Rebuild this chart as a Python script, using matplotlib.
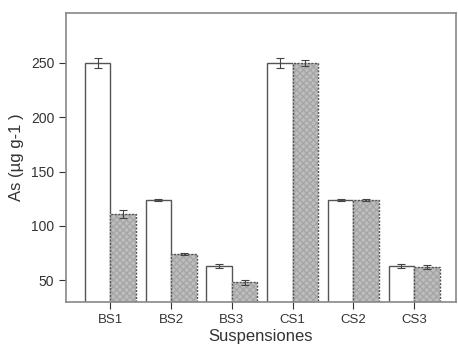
import numpy as np
import matplotlib.pyplot as plt

plt.rcParams['font.family'] = ['Liberation Sans', 'DejaVu Sans']

labels = ["BS1", "BS2", "BS3", "CS1", "CS2", "CS3"]
white_vals = [250, 124, 63, 250, 124, 63]
white_err = [5, 1, 2, 5, 1, 2]
grey_vals = [111, 74, 48, 250, 124, 62]
grey_err = [4, 0.7, 2, 3, 1, 2]

x = np.arange(len(labels))
w = 0.42
err_style = dict(ecolor="#444444", elinewidth=0.8, capthick=0.8)

fig = plt.figure(figsize=(4.58, 3.45), dpi=100)
ax = fig.add_axes([66 / 458, 43 / 345, 390 / 458, 289 / 345])

ax.bar(x - w / 2, white_vals, w, color="white", edgecolor="#555555",
       linewidth=1.0, yerr=white_err, capsize=3, error_kw=err_style)
# grey bars: light dotted fill, then a dashed outline on top
ax.bar(x + w / 2, grey_vals, w, color="#bdbdbd", edgecolor="#a6a6a6",
       linewidth=0, hatch="xxxxx")
ax.bar(x + w / 2, grey_vals, w, color="none", edgecolor="#555555",
       linewidth=1.0, linestyle=(0, (1.5, 1)),
       yerr=grey_err, capsize=3, error_kw=err_style)

ax.set_xlim(-0.73, 5.69)
ax.set_ylim(30, 296)
ax.set_yticks([50, 100, 150, 200, 250])
ax.set_xticks(x)
ax.set_xticklabels(labels)
ax.tick_params(axis="y", labelsize=10)
ax.tick_params(axis="x", labelsize=9.5)
ax.tick_params(colors="#333333", length=5, width=0.8)
ax.set_xlabel("Suspensiones", fontsize=12, color="#333333", labelpad=2)
ax.set_ylabel("As (\u00b5g g-1 )", fontsize=12, color="#333333", labelpad=5)
for s in ax.spines.values():
    s.set_color("#888888")
    s.set_linewidth(1.2)

fig.savefig("out.png", dpi=100)
